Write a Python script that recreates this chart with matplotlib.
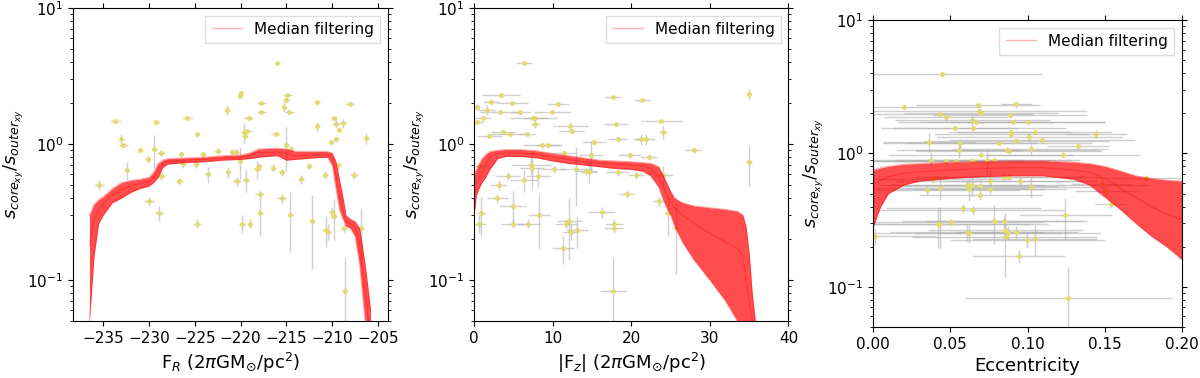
import matplotlib
matplotlib.use('Agg')
import matplotlib.pyplot as plt
from matplotlib.ticker import MultipleLocator

# ---- panel 1: F_R ----
fr_x = [-215.97, -220.1, -220.0, -214.9, -215.0, -217.75, -211.65, -208.05, -221.46, -215.2,
        -217.75, -214.66, -233.68, -229.25, -225.8, -219.1, -209.8, -209.6, -208.85, -211.6,
        -209.3, -219.6, -219.3, -219.5, -224.7, -216.15, -233.0, -232.8, -209.6, -210.1,
        -206.3, -230.95, -229.4, -228.7, -230.15, -232.45, -235.46, -228.7, -226.7, -226.45,
        -226.3, -224.85, -224.15, -223.6, -222.5, -221.35, -220.9, -220.5, -220.4, -220.1,
        -219.45, -218.2, -218.0, -216.4, -215.5, -215.0, -214.5, -213.4, -212.5, -210.8,
        -209.4, -207.6, -230.0, -228.9, -224.77, -217.9, -217.9, -219.86, -219.0, -215.5,
        -214.55, -212.2, -210.7, -210.4, -210.0, -209.8, -208.7, -206.8, -208.6]
fr_y = [3.94, 2.27, 2.37, 2.29, 2.10, 2.00, 2.03, 1.96, 1.78, 1.87,
        1.72, 1.72, 1.47, 1.45, 1.56, 1.56, 1.55, 1.40, 1.42, 1.35,
        1.26, 1.22, 1.25, 1.15, 1.19, 1.19, 1.08, 0.98, 1.08, 1.03,
        1.10, 0.91, 0.92, 0.86, 0.77, 0.64, 0.50, 0.58, 0.53, 0.84,
        0.71, 0.71, 0.84, 0.60, 0.89, 0.62, 0.88, 0.88, 0.53, 0.75,
        0.54, 0.65, 0.69, 0.67, 0.62, 0.98, 0.92, 0.55, 0.69, 0.59,
        0.70, 0.59, 0.38, 0.31, 0.26, 0.43, 0.31, 0.26, 0.26, 0.40,
        0.30, 0.27, 0.234, 0.226, 0.316, 0.297, 0.24, 0.24, 0.083]
fr_xerr = [0.3, 0.3, 0.3, 0.5, 0.4, 0.5, 0.3, 0.4, 0.3, 0.3,
           0.5, 0.5, 0.6, 0.3, 0.6, 0.5, 0.3, 0.4, 0.4, 0.3,
           0.3, 0.4, 0.5, 0.3, 0.3, 0.5, 0.3, 0.5, 0.3, 0.3,
           0.3, 0.3, 0.3, 0.4, 0.3, 0.3, 0.5, 0.4, 0.4, 0.3,
           0.3, 0.3, 0.3, 0.3, 0.4, 0.3, 0.4, 0.4, 0.4, 0.3,
           0.4, 0.4, 0.3, 0.3, 0.3, 0.3, 0.3, 0.3, 0.3, 0.3,
           0.4, 0.4, 0.5, 0.4, 0.4, 0.5, 0.3, 0.3, 0.3, 0.5,
           0.3, 0.3, 0.4, 0.3, 0.3, 0.3, 0.3, 0.3, 0.3]
fr_yerr = [0.05, 0.1, 0.1, 0.05, 0.05, 0.05, 0.05, 0.05, 0.15, 0.15,
           0.05, 0.05, 0.04, 0.04, 0.04, 0.04, 0.04, 0.1, 0.1, 0.1,
           0.04, 0.2, 0.04, 0.04, 0.04, 0.04, 0.1, 0.04, 0.04, 0.04,
           0.1, 0.04, 0.25, 0.04, 0.04, 0.1, 0.04, 0.04, 0.03, 0.04,
           0.04, 0.04, 0.04, 0.08, 0.04, 0.06, 0.04, 0.04, 0.04, 0.2,
           0.1, 0.1, 0.04, 0.04, 0.04, 0.35, 0.04, 0.04, 0.04, 0.04,
           0.04, 0.04, 0.03, 0.04, 0.02, 0.03, 0.1, 0.04, 0.02, 0.03,
           0.14, 0.15, 0.06, 0.03, 0.03, 0.1, 0.02, 0.1, 0.065]

fr_grid = [-236.5, -236.0, -235.5, -235.0, -234.0, -233.0, -232.0, -231.0, -230.0, -229.5,
           -229.0, -228.5, -228.0, -226.0, -224.0, -222.0, -220.0, -219.0, -218.0, -216.0,
           -215.0, -214.0, -212.0, -210.5, -210.0, -209.6, -209.2, -208.8, -208.5, -208.0,
           -207.5, -207.0, -206.7, -206.4, -206.1, -205.8]
fr_mid = [0.18, 0.28, 0.33, 0.36, 0.42, 0.46, 0.49, 0.51, 0.53, 0.56,
          0.65, 0.72, 0.75, 0.76, 0.77, 0.79, 0.80, 0.82, 0.86, 0.87,
          0.85, 0.82, 0.83, 0.84, 0.80, 0.60, 0.42, 0.32, 0.27, 0.26,
          0.25, 0.18, 0.12, 0.08, 0.055, 0.04]
fr_lo = [0.05, 0.15, 0.26, 0.30, 0.37, 0.40, 0.44, 0.47, 0.49, 0.52,
         0.57, 0.67, 0.71, 0.73, 0.74, 0.76, 0.77, 0.78, 0.80, 0.82,
         0.76, 0.77, 0.79, 0.80, 0.70, 0.48, 0.33, 0.28, 0.25, 0.24,
         0.21, 0.13, 0.08, 0.05, 0.04, 0.03]
fr_hi = [0.30, 0.36, 0.39, 0.41, 0.47, 0.52, 0.54, 0.55, 0.57, 0.62,
         0.72, 0.76, 0.78, 0.79, 0.80, 0.82, 0.83, 0.86, 0.92, 0.93,
         0.92, 0.88, 0.88, 0.88, 0.86, 0.75, 0.55, 0.40, 0.30, 0.28,
         0.27, 0.24, 0.18, 0.13, 0.09, 0.06]

# ---- panel 2: |F_z| ----
fz_x = [6.37, 35.0, 3.4, 17.66, 21.36, 2.12, 4.88, 10.7, 0.34, 1.61,
        3.27, 5.9, 9.98, 1.1, 0.42, 7.56, 7.81, 7.81, 12.27, 12.44,
        18.1, 23.8, 24.0, 3.69, 4.54, 6.71, 1.95, 21.27, 21.87, 18.26,
        15.24, 8.7, 9.38, 27.94, 35.0, 19.8, 22.3, 14.86, 11.4, 0.68,
        7.3, 7.4, 10.2, 13.0, 14.2, 14.6, 4.33, 8.2, 6.37, 3.14,
        18.26, 20.6, 24.1, 2.97, 4.97, 0.93, 0.68, 4.97, 6.92, 8.24,
        11.68, 12.1, 12.36, 13.16, 11.3, 16.26, 17.83, 17.75, 19.45, 23.57,
        24.63, 25.65, 17.7]
fz_y = [3.94, 2.34, 2.29, 2.22, 2.10, 2.03, 2.00, 1.97, 1.87, 1.78,
        1.71, 1.71, 1.72, 1.55, 1.45, 1.56, 1.55, 1.41, 1.35, 1.25,
        1.40, 1.47, 1.23, 1.23, 1.19, 1.19, 1.15, 1.09, 1.08, 1.08,
        1.04, 0.98, 0.98, 0.90, 0.74, 0.83, 0.80, 0.83, 0.86, 0.69,
        0.70, 0.67, 0.65, 0.65, 0.63, 0.62, 0.58, 0.58, 0.54, 0.50,
        0.62, 0.59, 0.59, 0.40, 0.35, 0.31, 0.26, 0.26, 0.26, 0.30,
        0.26, 0.27, 0.226, 0.233, 0.171, 0.316, 0.26, 0.24, 0.43, 0.38,
        0.31, 0.24, 0.083]
fz_xerr = [1.0, 0.3, 2.4, 1.0, 1.0, 1.0, 2.0, 1.4, 0.4, 1.2,
           2.5, 1.2, 2.3, 1.0, 0.8, 3.0, 1.5, 0.6, 2.2, 1.6,
           1.5, 2.6, 0.5, 1.5, 2.4, 1.0, 1.6, 1.0, 1.2, 1.2,
           1.5, 2.5, 1.4, 1.1, 0.4, 1.5, 1.0, 1.5, 1.6, 0.8,
           2.5, 1.5, 1.5, 2.0, 1.5, 1.0, 1.5, 1.6, 1.8, 1.0,
           1.5, 1.0, 1.2, 1.3, 1.7, 0.6, 0.8, 1.5, 1.5, 1.4,
           1.4, 1.6, 1.0, 1.4, 1.4, 1.7, 1.1, 1.2, 1.0, 0.8,
           0.4, 0.4, 1.7]
fz_yerr = [0.05, 0.2, 0.05, 0.05, 0.05, 0.05, 0.05, 0.05, 0.1, 0.15,
           0.05, 0.05, 0.05, 0.04, 0.04, 0.04, 0.04, 0.1, 0.1, 0.04,
           0.04, 0.04, 0.15, 0.04, 0.04, 0.04, 0.04, 0.1, 0.1, 0.04,
           0.04, 0.04, 0.04, 0.04, 0.25, 0.04, 0.04, 0.2, 0.04, 0.04,
           0.1, 0.2, 0.04, 0.3, 0.04, 0.1, 0.04, 0.1, 0.1, 0.04,
           0.04, 0.04, 0.1, 0.03, 0.1, 0.1, 0.04, 0.02, 0.02, 0.13,
           0.02, 0.13, 0.03, 0.06, 0.04, 0.03, 0.02, 0.02, 0.03, 0.03,
           0.1, 0.13, 0.065]

fz_grid = [0.0, 0.3, 0.7, 1.0, 1.5, 2.0, 3.0, 4.0, 6.0, 8.0,
           10.0, 12.0, 14.0, 16.0, 18.0, 20.0, 21.5, 22.5, 23.5, 24.0,
           24.5, 25.0, 25.5, 26.5, 28.0, 30.0, 32.0, 33.5, 34.2, 34.6,
           35.0, 35.4, 35.8]
fz_mid = [0.45, 0.52, 0.57, 0.60, 0.70, 0.80, 0.85, 0.86, 0.86, 0.84,
          0.80, 0.77, 0.74, 0.72, 0.71, 0.70, 0.69, 0.66, 0.58, 0.50,
          0.43, 0.38, 0.34, 0.30, 0.26, 0.22, 0.19, 0.17, 0.15, 0.10,
          0.07, 0.05, 0.04]
fz_lo = [0.30, 0.42, 0.48, 0.52, 0.57, 0.65, 0.78, 0.81, 0.81, 0.79,
         0.75, 0.72, 0.70, 0.68, 0.66, 0.65, 0.63, 0.58, 0.48, 0.40,
         0.34, 0.30, 0.25, 0.19, 0.14, 0.10, 0.07, 0.05, 0.045, 0.04,
         0.035, 0.03, 0.03]
fz_hi = [0.60, 0.65, 0.72, 0.78, 0.84, 0.88, 0.90, 0.91, 0.91, 0.89,
         0.85, 0.82, 0.79, 0.76, 0.75, 0.74, 0.73, 0.72, 0.68, 0.60,
         0.52, 0.45, 0.40, 0.37, 0.35, 0.34, 0.33, 0.32, 0.30, 0.25,
         0.16, 0.08, 0.05]

# ---- panel 3: eccentricity ----
ecc_x = [0.0444, 0.020, 0.0928, 0.068, 0.0684, 0.070, 0.0434, 0.0887, 0.0472, 0.0643,
         0.0665, 0.0904, 0.100, 0.0529, 0.065, 0.089, 0.0895, 0.1046, 0.1012, 0.1446,
         0.0928, 0.1094, 0.0365, 0.0565, 0.0818, 0.0557, 0.087, 0.088, 0.102, 0.1325,
         0.0697, 0.123, 0.0378, 0.0475, 0.0535, 0.064, 0.074, 0.078, 0.1767, 0.039,
         0.0436, 0.061, 0.0643, 0.069, 0.0755, 0.085, 0.088, 0.095, 0.102, 0.1486,
         0.035, 0.0619, 0.0757, 0.0695, 0.0585, 0.0645, 0.0419, 0.0434, 0.0505, 0.0785,
         0.0846, 0.1245, 0.0608, 0.0621, 0.0857, 0.0872, 0.0926, 0.0852, 0.0999, 0.1049,
         0.0943, 0.1264, 0.001, 0.154, 0.151, 0.148]
ecc_y = [3.93, 2.21, 2.34, 2.29, 2.07, 2.02, 1.99, 1.95, 1.86, 1.77,
         1.71, 1.71, 1.72, 1.55, 1.55, 1.46, 1.40, 1.46, 1.32, 1.41,
         1.24, 1.25, 1.22, 1.19, 1.19, 1.07, 1.07, 1.05, 1.08, 1.14,
         0.98, 0.98, 0.90, 0.87, 0.87, 0.88, 0.89, 0.89, 0.65, 0.64,
         0.55, 0.58, 0.58, 0.57, 0.62, 0.66, 0.67, 0.62, 0.56, 0.58,
         0.53, 0.54, 0.54, 0.49, 0.39, 0.376, 0.295, 0.295, 0.304, 0.311,
         0.311, 0.345, 0.259, 0.253, 0.268, 0.255, 0.257, 0.238, 0.224, 0.23,
         0.170, 0.082, 0.24, 0.42, 0.52, 0.59]
ecc_xerr = [0.065, 0.05, 0.01, 0.04, 0.07, 0.05, 0.06, 0.05, 0.04, 0.05,
            0.05, 0.06, 0.05, 0.04, 0.06, 0.04, 0.05, 0.05, 0.06, 0.02,
            0.06, 0.06, 0.03, 0.05, 0.06, 0.04, 0.06, 0.06, 0.05, 0.02,
            0.06, 0.05, 0.06, 0.05, 0.06, 0.05, 0.06, 0.05, 0.03, 0.05,
            0.06, 0.05, 0.06, 0.05, 0.06, 0.05, 0.06, 0.05, 0.04, 0.03,
            0.06, 0.05, 0.05, 0.04, 0.05, 0.06, 0.06, 0.07, 0.06, 0.06,
            0.05, 0.03, 0.05, 0.06, 0.05, 0.06, 0.04, 0.06, 0.05, 0.04,
            0.03, 0.067, 0.04, 0.01, 0.02, 0.02]
ecc_yerr = [0.05, 0.05, 0.15, 0.05, 0.05, 0.05, 0.05, 0.05, 0.15, 0.2,
            0.05, 0.05, 0.05, 0.05, 0.05, 0.05, 0.05, 0.05, 0.1, 0.1,
            0.04, 0.04, 0.2, 0.1, 0.04, 0.15, 0.04, 0.04, 0.1, 0.04,
            0.04, 0.04, 0.1, 0.04, 0.04, 0.04, 0.2, 0.04, 0.04, 0.04,
            0.1, 0.04, 0.1, 0.04, 0.1, 0.04, 0.04, 0.04, 0.1, 0.04,
            0.04, 0.1, 0.04, 0.04, 0.03, 0.03, 0.1, 0.1, 0.02, 0.1,
            0.03, 0.12, 0.04, 0.04, 0.03, 0.03, 0.03, 0.12, 0.03, 0.06,
            0.02, 0.06, 0.03, 0.03, 0.04, 0.04]

ecc_grid = [0.0, 0.005, 0.01, 0.02, 0.03, 0.05, 0.07, 0.09, 0.11, 0.13,
            0.14, 0.15, 0.16, 0.17, 0.18, 0.19, 0.2]
ecc_mid = [0.58, 0.63, 0.67, 0.71, 0.73, 0.75, 0.77, 0.78, 0.78, 0.75,
           0.72, 0.65, 0.55, 0.47, 0.40, 0.35, 0.32]
ecc_lo = [0.28, 0.40, 0.50, 0.58, 0.62, 0.65, 0.67, 0.68, 0.68, 0.64,
          0.58, 0.47, 0.38, 0.30, 0.24, 0.20, 0.16]
ecc_hi = [0.75, 0.78, 0.80, 0.83, 0.84, 0.86, 0.87, 0.88, 0.88, 0.86,
          0.84, 0.80, 0.74, 0.68, 0.65, 0.63, 0.62]

ylab = r'$s_{core_{xy}}/s_{outer_{xy}}$'

fig = plt.figure(figsize=(12, 3.78), dpi=100)
rects = [[0.0608, 0.151, 0.2625, 0.828],
         [0.395, 0.151, 0.262, 0.828],
         [0.7275, 0.135, 0.2575, 0.812]]

panels = [
    (fr_x, fr_y, fr_xerr, fr_yerr, fr_grid, fr_lo, fr_mid, fr_hi,
     (-238.3, -203.9), 5, r'F$_R$ (2$\pi$GM$_{\odot}$/pc$^2$)'),
    (fz_x, fz_y, fz_xerr, fz_yerr, fz_grid, fz_lo, fz_mid, fz_hi,
     (0, 40), 10, r'|F$_z$| (2$\pi$GM$_{\odot}$/pc$^2$)'),
    (ecc_x, ecc_y, ecc_xerr, ecc_yerr, ecc_grid, ecc_lo, ecc_mid, ecc_hi,
     (0, 0.2), 0.05, 'Eccentricity'),
]

for rect, (x, y, xe, ye, g, lo, mid, hi, xl, step, xlabel) in zip(rects, panels):
    ax = fig.add_axes(rect)
    ax.errorbar(x, y, xerr=xe, yerr=ye, fmt='none', ecolor='#b0b0b0',
                alpha=0.6, elinewidth=1, capsize=0, zorder=1)
    ax.plot(x, y, 'o', ms=3.5, color='#e0dc6c', mew=0, zorder=1.5)
    ax.fill_between(g, lo, hi, color='red', alpha=0.7, lw=0, zorder=2)
    for curve in (lo, mid, hi):
        ax.plot(g, curve, color='red', lw=0.7, alpha=0.35, zorder=3)
    ax.plot([], [], color='red', lw=1, alpha=0.3, label='Median filtering')
    ax.set_yscale('log')
    ax.set_ylim(0.05, 10)
    ax.set_xlim(*xl)
    ax.xaxis.set_major_locator(MultipleLocator(step))
    ax.set_xlabel(xlabel, fontsize=13)
    ax.set_ylabel(ylab, fontsize=13, labelpad=1)
    ax.tick_params(which='both', top=True, right=True, labelsize=11)
    ax.legend(loc='upper right', fontsize=11, fancybox=False, framealpha=1,
              edgecolor='#dddddd')

fig.savefig('out.png', dpi=100)
